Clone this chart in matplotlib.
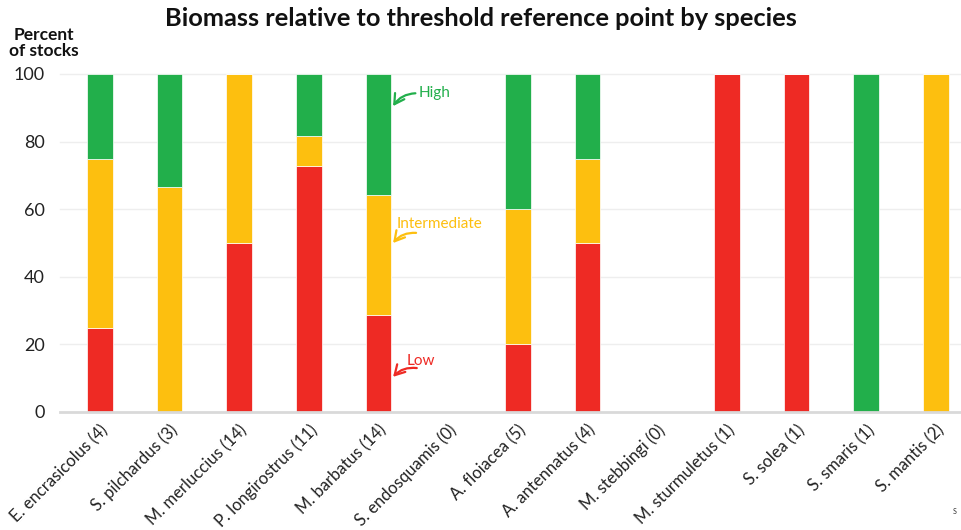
import matplotlib
matplotlib.use("Agg")
import matplotlib.pyplot as plt
import numpy as np

species = ["E. encrasicolus (4)", "S. pilchardus (3)", "M. merluccius (14)",
           "P. longirostrus (11)", "M. barbatus (14)", "S. endosquamis (0)",
           "A. floiacea (5)", "A. antennatus (4)", "M. stebbingi (0)",
           "M. sturmuletus (1)", "S. solea (1)", "S. smaris (1)", "S. mantis (2)"]
low = [25, 0, 50, 72.7, 28.6, 0, 20, 50, 0, 100, 100, 0, 0]
intermediate = [50, 66.7, 50, 9.1, 35.7, 0, 40, 25, 0, 0, 0, 0, 100]
high = [25, 33.3, 0, 18.2, 35.7, 0, 40, 25, 0, 0, 0, 100, 0]
yticks = [0, 20, 40, 60, 80, 100]

RED = "#EE2A24"
YEL = "#FDBF0F"
GRN = "#22AF4B"

plt.rcParams['font.family'] = ['Lato', 'DejaVu Sans']

fig = plt.figure(figsize=(9.61, 5.30), dpi=100)
ax = fig.add_axes([60/961, 1-412/530, 1-60/961, (412-74)/530])

x = np.arange(len(species))
low_a = np.array(low); int_a = np.array(intermediate); high_a = np.array(high)
w = 0.37
ax.bar(x, low_a, w, color=RED, edgecolor="white", linewidth=0.5, zorder=3)
ax.bar(x, int_a, w, bottom=low_a, color=YEL, edgecolor="white", linewidth=0.5, zorder=3)
ax.bar(x, high_a, w, bottom=low_a + int_a, color=GRN, edgecolor="white", linewidth=0.5, zorder=3)

ax.set_xlim(-0.57, 12.36)
ax.set_ylim(0, 100)
ax.set_yticks(yticks)
ax.set_yticklabels([str(t) for t in yticks], fontsize=13, color="#222222")
for t in yticks[1:]:
    ax.axhline(t, color="#eeeeee", linewidth=1, zorder=1, clip_on=False)
for s in ["top", "right", "left"]:
    ax.spines[s].set_visible(False)
ax.spines["bottom"].set_color("#d9d9d9")
ax.spines["bottom"].set_linewidth(2)
ax.spines["bottom"].set_zorder(4)
ax.tick_params(axis="both", length=0)
ax.tick_params(axis="y", pad=11)
ax.set_xticks(x)
ax.set_xticklabels(species, rotation=45, ha="right", rotation_mode="anchor",
                   fontsize=12, color="#222222")
ax.tick_params(axis="x", pad=7)

fig.text(0.5, 1-18/530, "Biomass relative to threshold reference point by species",
         ha="center", va="center", fontsize=18.3, fontweight="bold", color="#111111")
fig.text(44/961, 1-43/530, "Percent\nof stocks", ha="center", va="center",
         fontsize=12.5, fontweight="bold", color="#111111", linespacing=1.0)
fig.text(957/961, 1-511/530, "S", ha="right", va="center", fontsize=5, color="#333333")

# annotations
def note(label, tx, ty, ax0, ay0, ax1, ay1, color):
    ax.text(tx, ty, label, color=color, fontsize=11, ha="left", va="center")
    ax.annotate("", xy=(ax1, ay1), xytext=(ax0, ay0),
                arrowprops=dict(arrowstyle="->,head_length=0.7,head_width=0.4",
                                color=color, lw=1.6,
                                connectionstyle="arc3,rad=0.25",
                                shrinkA=0, shrinkB=0))

note("High", 4.58, 94.4, 4.53, 94.3, 4.21, 90.5, GRN)
note("Intermediate", 4.26, 55.6, 4.54, 53.0, 4.21, 50.0, YEL)
note("Low", 4.41, 15.1, 4.55, 13.0, 4.21, 10.4, RED)

fig.savefig("out.png", dpi=100)
